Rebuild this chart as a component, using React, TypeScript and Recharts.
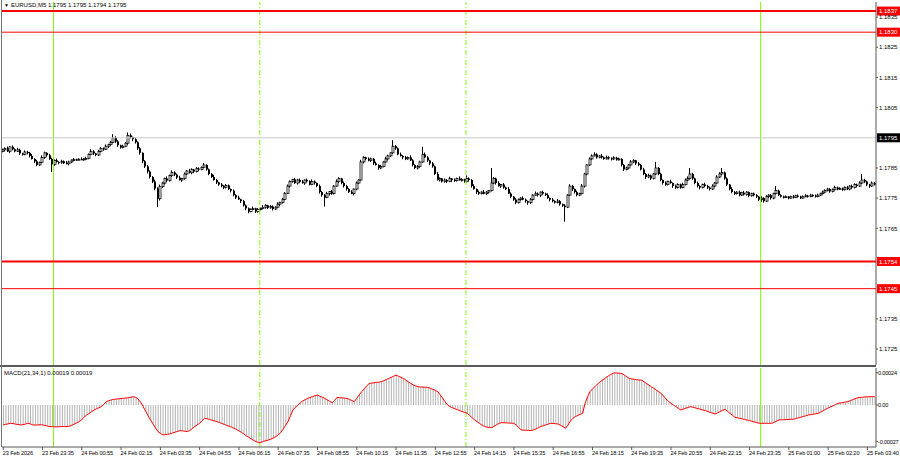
import React from "react";
import { ComposedChart, Bar, Line, XAxis, YAxis, ReferenceLine } from "recharts";

// EURUSD M5, prices in points above 1.17000
const opens = [
  905, 910, 915, 905, 920, 912, 905, 910, 898, 895, 903, 900, 890, 880, 872, 860, 868, 885, 900, 892,
  880, 862, 875, 870, 868, 872, 866, 864, 870, 876, 878, 877, 879, 878, 880, 882, 895, 905, 898, 893,
  905, 915, 912, 922, 928, 935, 950, 938, 925, 918, 922, 932, 958, 952, 945, 935, 915, 900, 872, 855,
  838, 820, 805, 782, 748, 788, 800, 815, 808, 825, 835, 828, 818, 810, 815, 830, 840, 834, 845, 838,
  848, 845, 852, 860, 845, 830, 820, 810, 802, 795, 790, 785, 792, 780, 775, 760, 752, 746, 740, 726,
  716, 706, 712, 716, 706, 712, 716, 720, 726, 718, 722, 714, 720, 730, 736, 746, 766, 790, 805, 812,
  800, 810, 804, 800, 810, 806, 795, 805, 800, 790, 770, 760, 752, 765, 772, 765, 790, 805, 815, 800,
  790, 780, 770, 765, 780, 800, 810, 870, 885, 880, 875, 880, 865, 860, 850, 855, 870, 880, 890, 900,
  922, 915, 895, 890, 885, 880, 885, 875, 860, 850, 855, 870, 895, 885, 875, 865, 855, 830, 810, 815,
  805, 810, 805, 815, 810, 808, 815, 810, 812, 805, 815, 810, 790, 780, 770, 765, 770, 765, 770, 775,
  800, 815, 800, 790, 795, 785, 780, 765, 755, 745, 735, 745, 750, 745, 740, 735, 745, 760, 765, 760,
  770, 765, 760, 750, 745, 740, 735, 740, 730, 725, 720, 760, 790, 780, 770, 760, 765, 790, 830, 860,
  880, 890, 895, 885, 890, 885, 880, 885, 882, 880, 884, 878, 880, 860, 845, 850, 860, 870, 875, 865,
  860, 845, 830, 820, 825, 815, 830, 850, 830, 810, 800, 795, 805, 800, 790, 785, 795, 785, 795, 810,
  815, 830, 815, 800, 790, 785, 795, 790, 785, 780, 790, 800, 820, 830, 835, 815, 795, 780, 770, 765,
  770, 760, 768, 762, 770, 758, 765, 760, 755, 745, 750, 740, 755, 760, 750, 765, 775, 760, 755, 752,
  755, 750, 755, 752, 758, 755, 750, 755, 758, 755, 760, 758, 755, 760, 765, 770, 775, 780, 772, 778,
  785, 780, 782, 778, 785, 780, 790, 785, 795, 790, 800, 810, 805, 795, 790, 800,
];
const closes = [
  910, 915, 905, 920, 912, 905, 910, 898, 895, 903, 900, 890, 880, 872, 860, 868, 885, 900, 892, 880,
  862, 875, 870, 868, 872, 866, 864, 870, 876, 878, 877, 879, 878, 880, 882, 895, 905, 898, 893, 905,
  915, 912, 922, 928, 935, 950, 938, 925, 918, 922, 932, 958, 952, 945, 935, 915, 900, 872, 855, 838,
  820, 805, 782, 748, 788, 800, 815, 808, 825, 835, 828, 818, 810, 815, 830, 840, 834, 845, 838, 848,
  845, 852, 860, 845, 830, 820, 810, 802, 795, 790, 785, 792, 780, 775, 760, 752, 746, 740, 726, 716,
  706, 712, 716, 706, 712, 716, 720, 726, 718, 722, 714, 720, 730, 736, 746, 766, 790, 805, 812, 800,
  810, 804, 800, 810, 806, 795, 805, 800, 790, 770, 760, 752, 765, 772, 765, 790, 805, 815, 800, 790,
  780, 770, 765, 780, 800, 810, 870, 885, 880, 875, 880, 865, 860, 850, 855, 870, 880, 890, 900, 922,
  915, 895, 890, 885, 880, 885, 875, 860, 850, 855, 870, 895, 885, 875, 865, 855, 830, 810, 815, 805,
  810, 805, 815, 810, 808, 815, 810, 812, 805, 815, 810, 790, 780, 770, 765, 770, 765, 770, 775, 800,
  815, 800, 790, 795, 785, 780, 765, 755, 745, 735, 745, 750, 745, 740, 735, 745, 760, 765, 760, 770,
  765, 760, 750, 745, 740, 735, 740, 730, 725, 720, 760, 790, 780, 770, 760, 765, 790, 830, 860, 880,
  890, 895, 885, 890, 885, 880, 885, 882, 880, 884, 878, 880, 860, 845, 850, 860, 870, 875, 865, 860,
  845, 830, 820, 825, 815, 830, 850, 830, 810, 800, 795, 805, 800, 790, 785, 795, 785, 795, 810, 815,
  830, 815, 800, 790, 785, 795, 790, 785, 780, 790, 800, 820, 830, 835, 815, 795, 780, 770, 765, 770,
  760, 768, 762, 770, 758, 765, 760, 755, 745, 750, 740, 755, 760, 750, 765, 775, 760, 755, 752, 755,
  750, 755, 752, 758, 755, 750, 755, 758, 755, 760, 758, 755, 760, 765, 770, 775, 780, 772, 778, 785,
  780, 782, 778, 785, 780, 790, 785, 795, 790, 800, 810, 805, 795, 790, 800, 795,
];
const highs = [
  914, 918, 921, 922, 925, 915, 917, 914, 900, 908, 907, 903, 896, 882, 877, 871, 892, 904, 902, 897,
  884, 878, 881, 872, 877, 875, 873, 874, 878, 883, 881, 882, 885, 882, 887, 898, 912, 909, 900, 910,
  919, 918, 928, 930, 940, 962, 955, 942, 927, 927, 936, 968, 964, 954, 950, 938, 919, 902, 876, 860,
  842, 823, 811, 786, 795, 804, 818, 822, 828, 842, 839, 831, 824, 817, 835, 843, 847, 849, 847, 853,
  852, 855, 866, 862, 848, 833, 827, 814, 804, 800, 793, 797, 795, 782, 779, 763, 758, 748, 744, 729,
  719, 716, 722, 718, 717, 719, 727, 730, 728, 727, 726, 723, 736, 738, 751, 770, 795, 809, 814, 817,
  814, 815, 810, 812, 815, 809, 812, 809, 802, 795, 774, 763, 771, 774, 777, 793, 812, 819, 817, 805,
  794, 783, 776, 782, 805, 813, 877, 889, 887, 885, 884, 883, 871, 862, 860, 873, 887, 894, 902, 942,
  926, 918, 901, 892, 890, 888, 892, 879, 862, 860, 874, 920, 901, 889, 877, 870, 858, 837, 819, 817,
  815, 813, 821, 817, 815, 818, 822, 816, 814, 825, 819, 813, 796, 782, 775, 773, 777, 774, 777, 850,
  820, 818, 806, 797, 800, 788, 787, 769, 757, 750, 749, 753, 756, 749, 742, 750, 763, 772, 769, 772,
  775, 768, 766, 752, 750, 743, 747, 744, 732, 730, 763, 796, 794, 782, 775, 768, 797, 834, 862, 885,
  895, 902, 899, 893, 896, 888, 891, 889, 885, 889, 887, 884, 882, 863, 854, 863, 876, 879, 877, 870,
  863, 850, 833, 831, 828, 834, 870, 853, 834, 812, 805, 808, 811, 802, 795, 799, 798, 801, 815, 822,
  850, 834, 818, 805, 793, 798, 801, 794, 788, 796, 803, 826, 836, 850, 838, 819, 797, 786, 774, 773,
  775, 771, 774, 773, 772, 768, 769, 763, 757, 756, 753, 760, 763, 764, 768, 790, 778, 763, 758, 759,
  757, 758, 760, 761, 762, 758, 759, 763, 761, 764, 763, 762, 765, 768, 775, 779, 784, 783, 782, 791,
  788, 786, 785, 789, 790, 793, 795, 799, 798, 806, 830, 814, 808, 797, 805, 803,
];
const lows = [
  902, 905, 903, 899, 908, 902, 903, 893, 891, 892, 895, 885, 878, 866, 856, 857, 866, 880, 888, 877,
  837, 857, 868, 862, 864, 863, 862, 859, 866, 873, 874, 875, 876, 874, 876, 879, 893, 893, 889, 890,
  902, 907, 910, 916, 924, 932, 933, 920, 914, 915, 919, 927, 948, 939, 931, 910, 894, 866, 850, 832,
  815, 800, 776, 720, 742, 784, 795, 804, 805, 820, 823, 813, 808, 804, 811, 827, 832, 829, 834, 835,
  840, 842, 849, 841, 826, 817, 808, 797, 791, 786, 780, 782, 777, 769, 756, 747, 744, 734, 722, 710,
  700, 703, 710, 701, 702, 709, 714, 715, 714, 715, 709, 711, 718, 724, 732, 743, 764, 785, 801, 797,
  795, 801, 798, 794, 802, 792, 793, 795, 786, 765, 755, 722, 750, 759, 761, 762, 788, 800, 796, 785,
  775, 767, 763, 759, 776, 797, 808, 865, 876, 872, 870, 860, 858, 844, 846, 852, 868, 875, 886, 897,
  910, 892, 888, 879, 876, 877, 873, 855, 846, 845, 851, 867, 883, 870, 859, 851, 827, 808, 805, 802,
  801, 800, 803, 804, 804, 805, 808, 805, 801, 802, 805, 785, 778, 764, 761, 762, 763, 760, 766, 772,
  797, 795, 788, 784, 781, 777, 763, 750, 741, 730, 732, 742, 743, 735, 728, 731, 742, 758, 755, 754,
  761, 757, 748, 739, 736, 732, 733, 725, 721, 672, 717, 758, 774, 765, 756, 757, 763, 785, 826, 857,
  876, 888, 881, 882, 881, 877, 878, 878, 875, 877, 874, 875, 855, 840, 842, 847, 858, 866, 860, 856,
  842, 826, 814, 817, 810, 812, 827, 826, 806, 795, 791, 792, 798, 784, 780, 782, 781, 783, 792, 806,
  812, 811, 796, 785, 779, 782, 787, 780, 775, 777, 786, 798, 816, 826, 811, 790, 776, 766, 760, 762,
  756, 757, 759, 758, 753, 755, 756, 750, 740, 738, 735, 737, 751, 745, 746, 762, 757, 752, 749, 750,
  746, 748, 749, 750, 752, 747, 748, 753, 752, 753, 755, 752, 753, 757, 762, 767, 772, 768, 769, 775,
  776, 777, 774, 775, 777, 776, 781, 782, 786, 787, 797, 800, 790, 784, 787, 792,
];
// MACD(21,34,1) main value, millionths
const macd = [
  -148, -144, -140, -136, -138, -142, -145, -148, -146, -142, -136, -140, -148, -149, -148, -147, -148, -152, -156, -160,
  -161, -162, -162, -161, -160, -160, -160, -158, -150, -141, -132, -123, -108, -90, -74, -62, -50, -37, -28, -20,
  -12, 6, 25, 32, 38, 42, 44, 46, 48, 50, 52, 54, 58, 62, 56, 44, 20, -12, -45, -80,
  -111, -140, -170, -197, -210, -222, -220, -218, -214, -208, -202, -196, -190, -192, -195, -197, -190, -175, -160, -148,
  -136, -118, -99, -102, -108, -113, -118, -123, -130, -137, -144, -151, -158, -165, -173, -182, -192, -203, -215, -229,
  -240, -252, -263, -272, -279, -277, -271, -265, -260, -254, -245, -235, -222, -205, -180, -152, -123, -80, -37, -18,
  -2, 17, 30, 40, 49, 56, 63, 69, 74, 65, 57, 49, 38, 27, 17, 35, 57, 55, 53, 51,
  49, 42, 33, 25, 50, 75, 99, 120, 140, 160, 163, 165, 168, 170, 173, 180, 189, 197, 205, 214,
  222, 214, 206, 197, 185, 172, 160, 150, 142, 136, 134, 133, 132, 131, 124, 116, 108, 99, 75, 50,
  24, 0, -12, -20, -28, -35, -42, -49, -55, -62, -78, -95, -111, -124, -137, -149, -160, -164, -167, -168,
  -158, -146, -136, -131, -132, -133, -134, -135, -136, -150, -168, -185, -187, -188, -189, -190, -185, -178, -168, -160,
  -154, -148, -142, -136, -137, -139, -141, -150, -160, -173, -150, -120, -100, -86, -78, -70, -62, 12, 60, 100,
  120, 136, 155, 170, 185, 197, 210, 222, 232, 239, 238, 236, 234, 222, 210, 197, 194, 191, 188, 186,
  185, 173, 160, 148, 136, 124, 111, 99, 86, 66, 45, 28, 12, 0, -12, -25, -37, -30, -24, -18,
  -12, -17, -22, -27, -32, -37, -42, -48, -55, -61, -67, -58, -49, -40, -32, -47, -62, -76, -91, -95,
  -99, -103, -108, -112, -116, -121, -126, -131, -136, -136, -136, -136, -136, -136, -128, -120, -111, -110, -109, -108,
  -107, -106, -106, -100, -95, -90, -85, -80, -74, -71, -68, -65, -62, -52, -42, -32, -22, -14, -6, 3,
  12, 15, 18, 22, 25, 32, 40, 47, 54, 56, 58, 60, 61, 62, 62, 62,
];

const timeLabels = [
  "23 Feb 2026", "23 Feb 23:35", "24 Feb 00:55", "24 Feb 02:15", "24 Feb 03:35", "24 Feb 04:55",
  "24 Feb 06:15", "24 Feb 07:35", "24 Feb 08:55", "24 Feb 10:15", "24 Feb 11:35", "24 Feb 12:55",
  "24 Feb 14:15", "24 Feb 15:35", "24 Feb 16:55", "24 Feb 18:15", "24 Feb 19:35", "24 Feb 20:55",
  "24 Feb 22:15", "24 Feb 23:35", "25 Feb 01:00", "25 Feb 02:20", "25 Feb 03:40",
];
const priceTicks = [1.1725, 1.1735, 1.1765, 1.1775, 1.1785, 1.1805, 1.1815, 1.1825, 1.1835];
const redLevels = [1.1837, 1.183, 1.1754, 1.1745];
const strongLevels = [1.1837, 1.1754];
const bidPrice = 1.1795;
const dayStartBars = [21, 309];
const sessionBars = [105, 189];
const macdTicks = [0.00024, 0, -0.00027];
const macdTickLabels = ["0.00024", "0.00", "-0.00027"];

const N = closes.length;
const BASE = 1.17;
const PT = 0.00001;
const rows = closes.map((c, i) => ({
  i,
  o: BASE + opens[i] * PT,
  h: BASE + highs[i] * PT,
  l: BASE + lows[i] * PT,
  c: BASE + c * PT,
  m: macd[i] / 1e6,
}));
const labelTicks = timeLabels.map((_, k) => k * 16);

const FONT = "'Liberation Sans', Arial, sans-serif";
const GREEN = "#7cfc00";
const AXIS_X = 876; // right edge of the plot area
const LABEL_X = 879;

const Candle = (props: any) => {
  const { x, y, width, height, payload } = props;
  if (!payload) return null;
  const top = Math.min(y, y + height);
  const hgt = Math.abs(height);
  const px = Math.round(x + width / 2);
  const span = payload.h - payload.l || 1;
  const pos = (v: number) => top + ((payload.h - v) / span) * hgt;
  const bTop = pos(Math.max(payload.o, payload.c));
  const bBot = pos(Math.min(payload.o, payload.c));
  const bull = payload.c >= payload.o;
  return (
    <g>
      <line x1={px - 0.5} x2={px - 0.5} y1={top} y2={top + hgt} stroke="#000" strokeWidth={1} />
      <rect
        x={px - 1}
        y={bTop}
        width={2}
        height={Math.max(1, bBot - bTop)}
        fill={bull ? "#fff" : "#000"}
        stroke="#000"
        strokeWidth={bull ? 0.8 : 0}
      />
    </g>
  );
};

const priceTag = (text: string, bg: string) => (p: any) => {
  const vb = p.viewBox || {};
  return (
    <g>
      <rect x={AXIS_X + 1} y={vb.y - 4.5} width={23} height={9} fill={bg} />
      <text x={LABEL_X} y={vb.y + 2.3} fontSize={6} fontFamily={FONT} fill="#fff">
        {text}
      </text>
    </g>
  );
};

const PriceTick = (p: any) => (
  <g>
    <line x1={AXIS_X} x2={AXIS_X + 2} y1={p.y} y2={p.y} stroke="#555" />
    <text x={LABEL_X} y={p.y + 2.2} fontSize={6} fontFamily={FONT} fill="#000">
      {p.payload.value.toFixed(4)}
    </text>
  </g>
);

const MacdTick = (p: any) => {
  const idx = macdTicks.indexOf(p.payload.value);
  return (
    <g>
      <line x1={AXIS_X} x2={AXIS_X + 2} y1={p.y} y2={p.y} stroke="#555" />
      <text
        x={LABEL_X - 1}
        y={p.y + 2.2}
        fontSize={5.6}
        letterSpacing={-0.2}
        fontFamily={FONT}
        fill="#000"
      >
        {macdTickLabels[idx]}
      </text>
    </g>
  );
};

const MACD_BOTTOM = 80; // plot bottom inside the MACD chart

const TimeTick = (p: any) => {
  const k = labelTicks.indexOf(p.payload.value);
  return (
    <g>
      <line x1={p.x} x2={p.x} y1={MACD_BOTTOM} y2={MACD_BOTTOM + 3} stroke="#555" />
      <text
        x={p.x - 0.5}
        y={MACD_BOTTOM + 8}
        fontSize={5.6}
        letterSpacing={-0.1}
        fontFamily={FONT}
        fill="#000"
      >
        {timeLabels[k]}
      </text>
    </g>
  );
};

const verticalMarks = (keyPrefix: string) => [
  ...dayStartBars.map((b) => (
    <ReferenceLine key={keyPrefix + "d" + b} x={b - 0.5} stroke={GREEN} strokeWidth={1} />
  )),
  ...sessionBars.map((b) => (
    <ReferenceLine
      key={keyPrefix + "s" + b}
      x={b - 0.5}
      stroke={GREEN}
      strokeWidth={1}
      strokeDasharray="5 2 1 2"
    />
  )),
];

export default function App() {
  return (
    <div style={{ position: "fixed", left: 0, top: 0, width: 900, height: 460, background: "#fff" }}>
      <ComposedChart width={900} height={366} data={rows} margin={{ top: 2, right: 0, bottom: 1, left: 2 }}>
        <XAxis type="number" dataKey="i" domain={[-0.5, N - 0.5]} hide />
        <YAxis
          orientation="right"
          width={24}
          domain={[1.17197, 1.184]}
          allowDataOverflow
          ticks={priceTicks}
          tick={<PriceTick />}
          tickLine={false}
          axisLine={{ stroke: "#555" }}
          interval={0}
        />
        {verticalMarks("m")}
        <ReferenceLine
          y={bidPrice}
          stroke="#c8c8c8"
          strokeWidth={1}
          label={{ content: priceTag(bidPrice.toFixed(4), "#000") }}
        />
        {redLevels.map((lv) => (
          <ReferenceLine
            key={lv}
            y={lv}
            stroke="#ff0000"
            strokeWidth={strongLevels.includes(lv) ? 2 : 1}
            label={{ content: priceTag(lv.toFixed(4), "#ff0000") }}
          />
        ))}
        <Bar
          dataKey={(d: any) => [d.l, d.h]}
          barSize={2}
          shape={<Candle />}
          isAnimationActive={false}
        />
      </ComposedChart>
      <div style={{ position: "absolute", left: 0, top: 365, width: 876, height: 2, background: "#5a5a5a" }} />
      <div style={{ position: "absolute", left: 1, top: 0, width: 1, height: 447, background: "#777" }} />
      <div style={{ position: "absolute", left: 0, top: 367 }}>
        <ComposedChart width={900} height={93} data={rows} margin={{ top: 1, right: 0, bottom: 0, left: 2 }}>
          <XAxis
            type="number"
            dataKey="i"
            domain={[-0.5, N - 0.5]}
            ticks={labelTicks}
            interval={0}
            height={13}
            tick={<TimeTick />}
            tickLine={false}
            axisLine={{ stroke: "#555" }}
          />
          <YAxis
            orientation="right"
            width={24}
            domain={[-0.000312, 0.000275]}
            allowDataOverflow
            ticks={macdTicks}
            tick={<MacdTick />}
            tickLine={false}
            axisLine={{ stroke: "#555" }}
            interval={0}
          />
          {verticalMarks("d")}
          <Bar dataKey="m" barSize={1} fill="#b4b4b4" isAnimationActive={false} />
          <Line dataKey="m" type="linear" stroke="#ff0000" strokeWidth={1} dot={false} isAnimationActive={false} />
        </ComposedChart>
      </div>
      <div
        style={{
          position: "absolute",
          left: 4,
          top: 1,
          fontFamily: FONT,
          fontSize: 6,
          lineHeight: "9px",
          color: "#000",
          whiteSpace: "nowrap",
        }}
      >
        <span style={{ fontSize: 5, marginRight: 2 }}>▼</span>EURUSD,M5 1.1795 1.1795 1.1794 1.1795
      </div>
      <div
        style={{
          position: "absolute",
          left: 4,
          top: 369,
          fontFamily: FONT,
          fontSize: 6,
          lineHeight: "9px",
          color: "#000",
          whiteSpace: "nowrap",
        }}
      >
        MACD(21,34,1) 0.00019 0.00019
      </div>
    </div>
  );
}
